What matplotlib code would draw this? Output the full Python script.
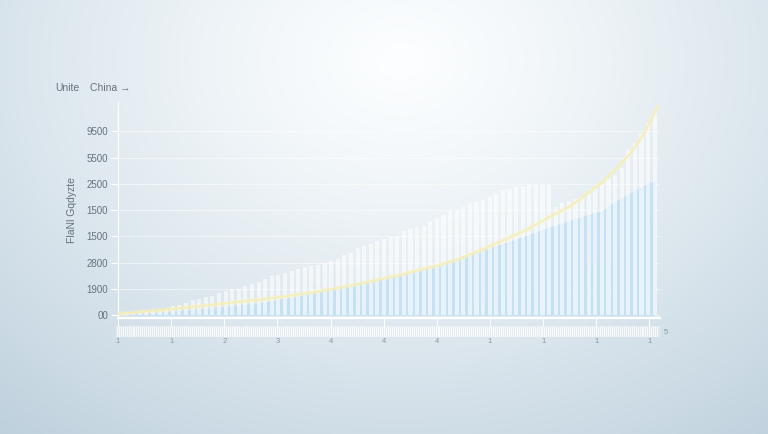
import numpy as np
import matplotlib.pyplot as plt
from matplotlib.colors import to_rgb

plt.rcParams['font.family'] = ['Liberation Sans', 'DejaVu Sans']

# bar series (one value per bar)
white_vals = [10, 20, 35, 50, 68, 85, 100, 130, 170, 200,
              230, 285, 320, 340, 370, 420, 470, 500, 510, 560,
              600, 630, 700, 740, 766, 800, 850, 890, 910, 940,
              956, 990, 1040, 1080, 1140, 1190, 1280, 1320, 1350, 1420,
              1450, 1480, 1510, 1600, 1640, 1684, 1700, 1790, 1840, 1900,
              2002, 2010, 2060, 2129, 2150, 2200, 2255, 2300, 2382, 2410,
              2445, 2460, 2477, 2477, 2477, 2477, 2065, 2140, 2180, 2220,
              2255, 2320, 2400, 2500, 2600, 2667, 2800, 3143, 3280, 3450,
              3650, 3850]
blue_vals = [5, 10, 20, 25, 35, 40, 50, 60, 75, 90,
             100, 110, 120, 130, 140, 155, 170, 185, 200, 210,
             220, 230, 255, 280, 310, 330, 350, 380, 400, 430,
             481, 500, 520, 545, 570, 590, 620, 650, 680, 700,
             720, 740, 780, 800, 830, 860, 890, 920, 950, 990,
             1050, 1080, 1130, 1170, 1210, 1250, 1290, 1330, 1370, 1410,
             1450, 1500, 1540, 1590, 1630, 1680, 1720, 1760, 1800, 1840,
             1880, 1920, 1950, 1990, 2090, 2170, 2240, 2310, 2380, 2450,
             2510, 2560]

# curve (bar-index position, value)
curve_x = [-0.3, 3.0, 6.1, 10.0, 13.6, 17.5, 21.2, 25.3, 30.3, 36.4,
           42.4, 48.5, 51.5, 54.5, 57.6, 61.5, 65.2, 68.0, 70.2, 73.0,
           75.3, 77.0, 78.3, 79.4, 80.3, 81.4]
curve_y = [30, 65, 100, 150, 196, 250, 300, 365, 460, 600,
           770, 960, 1080, 1230, 1400, 1620, 1880, 2060, 2255, 2520,
           2800, 3030, 3250, 3460, 3680, 3966]

ytick_vals = [0, 500, 1000, 1500, 2000, 2500, 3000, 3500]
ytick_labels = ['00', '1900', '2800', '1500', '1500', '2500', '5500', '9500']
xtick_labels = ['1', '1', '2', '3', '4', '4', '4', '1', '1', '1', '1']

idx = np.arange(len(white_vals))

fig = plt.figure(figsize=(7.68, 4.34), dpi=100)

# background glow
bg = fig.add_axes([0, 0, 1, 1])
bg.set_axis_off()
H, W = 434, 768
yy, xx = np.mgrid[0:H, 0:W]
d = np.sqrt(((xx - 400) / 640.0) ** 2 + ((yy - 60) / 500.0) ** 2)
t = np.clip(d, 0, 1) ** 1.25
c0 = np.array(to_rgb('#fcfeff'))
c1 = np.array(to_rgb('#bccfdc'))
img = c0[None, None, :] * (1 - t[..., None]) + c1[None, None, :] * t[..., None]
bg.imshow(img, aspect='auto', extent=[0, 1, 0, 1])
bg.set_xlim(0, 1)
bg.set_ylim(0, 1)

ax = fig.add_axes([118 / 768, 116 / 434, 542 / 768, 216 / 434])
ax.patch.set_alpha(0)

ax.fill_between(idx, blue_vals, 0, color='#c2e0f4', alpha=0.9, lw=0, zorder=2)
ax.bar(idx, white_vals, width=0.62, color='white', alpha=0.6, lw=0, zorder=3)
ax.plot(curve_x, curve_y, color='#faf5c8', lw=3.5, alpha=0.35, zorder=4,
        solid_capstyle='round')
ax.plot(curve_x, curve_y, color='#f5eeb8', lw=1.3, zorder=5)

ax.set_xlim(-0.3, 81.8)
ax.set_ylim(-50, 4055)

ax.set_yticks(ytick_vals)
ax.set_yticklabels(ytick_labels)
ax.tick_params(axis='y', length=5, width=0.8, color='white', pad=2,
               labelsize=7, labelcolor='#66727d')
ax.grid(axis='y', color='white', lw=0.7, alpha=0.5, zorder=1)

xtk = np.arange(len(xtick_labels)) * 8.05 - 0.3
ax.set_xticks(xtk)
ax.set_xticklabels([])
ax.tick_params(axis='x', length=6, width=0.7, color='white')

for s in ['top', 'right']:
    ax.spines[s].set_visible(False)
ax.spines['bottom'].set_color('white')
ax.spines['bottom'].set_linewidth(1.6)
ax.spines['left'].set_color('white')
ax.spines['left'].set_linewidth(0.8)

ax.set_ylabel('FlaNl Gqdyzte', fontsize=7.5, color='#66727d', labelpad=7)

# rug band under the axis
band = fig.add_axes([116 / 768, 97 / 434, 544 / 768, 11 / 434])
band.set_xlim(-0.6, 81.8)
band.set_ylim(0, 1)
band.patch.set_facecolor('white')
band.patch.set_alpha(0.3)
for s in band.spines.values():
    s.set_visible(False)
band.vlines(np.arange(-0.5, 81.6, 0.3), 0, 1, color='white', lw=0.6, alpha=0.85)
band.set_yticks([])
band.set_xticks(xtk)
band.set_xticklabels(xtick_labels)
band.tick_params(axis='x', length=0, pad=1, labelsize=5.5, labelcolor='#8a98a5')

fig.text(664 / 768, 1 - 333 / 434, '5', fontsize=5.5, color='#8a98a5',
         va='center')

# legend-like labels
fig.text(55 / 768, 1 - 88 / 434, 'Unite', fontsize=7.5, color='#66727d', va='center')
fig.text(90 / 768, 1 - 88 / 434, 'China \u2192', fontsize=7.5, color='#66727d', va='center')

fig.savefig('out.png', dpi=100)
